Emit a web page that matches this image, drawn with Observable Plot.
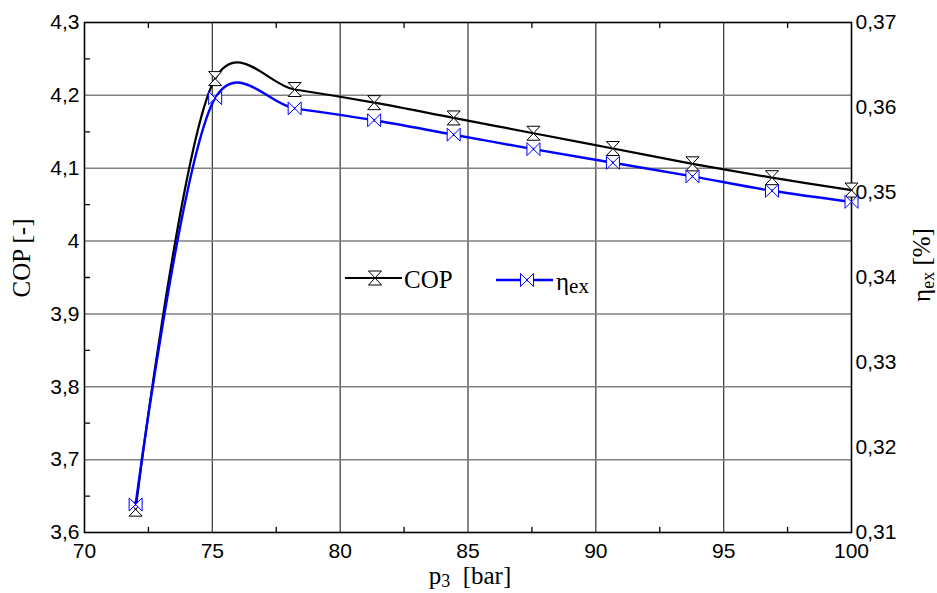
<!DOCTYPE html>
<html><head><meta charset="utf-8">
<script src="https://cdn.jsdelivr.net/npm/d3@7"></script>
<script src="https://cdn.jsdelivr.net/npm/@observablehq/plot@0.6"></script>
<style>body{margin:0;background:#fff}</style>
</head><body><div id="chart"></div>
<script>
// ---- data ----
const pressure = [72, 75.11, 78.22, 81.33, 84.44, 87.56, 90.67, 93.78, 96.89, 100];
const copValues = [3.632, 4.223, 4.208, 4.190, 4.169, 4.148, 4.127, 4.106, 4.087, 4.070];
const etaValues = [0.3133, 0.3611, 0.3599, 0.3585, 0.3568, 0.3551, 0.3535, 0.3519, 0.3502, 0.3489];
const xTicks = [70, 75, 80, 85, 90, 95, 100];
const xGrid = [75, 80, 85, 90, 95];
const xMinor = [72.5, 77.5, 82.5, 87.5, 92.5, 97.5];
const copTicks = [3.6, 3.7, 3.8, 3.9, 4.0, 4.1, 4.2, 4.3];
const copGrid = [3.7, 3.8, 3.9, 4.0, 4.1, 4.2];
const copMinor = [3.65, 3.75, 3.85, 3.95, 4.05, 4.15, 4.25];
const etaTicks = [0.31, 0.32, 0.33, 0.34, 0.35, 0.36, 0.37];
const copDomain = [3.6, 4.3];
const etaDomain = [0.31, 0.37];

// map the right-axis (eta) values onto the left (COP) scale
const etaToCop = e => copDomain[0] + (e - etaDomain[0]) * (copDomain[1] - copDomain[0]) / (etaDomain[1] - etaDomain[0]);
const copToEta = c => etaDomain[0] + (c - copDomain[0]) * (etaDomain[1] - etaDomain[0]) / (copDomain[1] - copDomain[0]);
const comma = v => String(v).replace(".", ",");

const data = pressure.map((p, i) => ({p, cop: copValues[i], eta: etaValues[i]}));

const hourglass = {draw(ctx) { const w = 6.5, h = 7; ctx.moveTo(-w, -h); ctx.lineTo(w, -h); ctx.lineTo(-w, h); ctx.lineTo(w, h); ctx.closePath(); }};
const bowtie = {draw(ctx) { const w = 6.5, h = 6.5; ctx.moveTo(-w, -h); ctx.lineTo(-w, h); ctx.lineTo(w, -h); ctx.lineTo(w, h); ctx.closePath(); }};
const tickShape = {draw(ctx, l) { ctx.moveTo(0, 0); ctx.lineTo(0, -l); }};

const sans = "Liberation Sans, Arial, sans-serif";
const serif = "Liberation Serif, Times New Roman, serif";

const chart = Plot.plot({
  width: 937, height: 593,
  marginLeft: 84, marginRight: 86, marginTop: 22, marginBottom: 61,
  style: {fontFamily: sans, fontSize: "21px", background: "#fff", color: "#000"},
  x: {domain: [70, 100]},
  y: {domain: copDomain},
  marks: [
    Plot.gridX(xGrid, {stroke: "#444", strokeOpacity: 1, strokeWidth: 1.3}),
    Plot.gridY(copGrid, {stroke: "#808080", strokeOpacity: 1, strokeWidth: 1.5}),
    Plot.vectorX(xMinor, {x: d => d, frameAnchor: "bottom", length: 5, anchor: "start", rotate: 0, shape: tickShape, stroke: "#000", strokeWidth: 1.3}),
    Plot.vectorX(xMinor, {x: d => d, frameAnchor: "top", length: 5, anchor: "start", rotate: 180, shape: tickShape, stroke: "#000", strokeWidth: 1.3}),
    Plot.vectorY(copMinor, {y: d => d, frameAnchor: "left", length: 5, anchor: "start", rotate: 90, shape: tickShape, stroke: "#000", strokeWidth: 1.3}),
    Plot.axisX(xTicks, {anchor: "bottom", tickSize: 0, tickPadding: 11, label: null, fontSize: 21}),
    Plot.axisY(copTicks, {anchor: "left", tickSize: 0, tickPadding: 5, label: null, tickFormat: comma, fontSize: 21}),
    Plot.axisY(etaTicks.map(etaToCop), {anchor: "right", tickSize: 0, tickPadding: 4, label: null, fontSize: 21,
      tickFormat: v => comma(+copToEta(v).toFixed(2))}),
    Plot.frame({stroke: "#000", strokeWidth: 1.6}),
    Plot.line(data, {x: "p", y: "cop", curve: "catmull-rom", tension: 0.2, stroke: "#000", strokeWidth: 2.2}),
    Plot.dot(data, {x: "p", y: "cop", symbol: hourglass, stroke: "#000", fill: "#fff", strokeWidth: 1, r: 7}),
    Plot.line(data, {x: "p", y: d => etaToCop(d.eta), curve: "catmull-rom", tension: 0.2, stroke: "#0000ff", strokeWidth: 2.4}),
    Plot.dot(data, {x: "p", y: d => etaToCop(d.eta), symbol: bowtie, stroke: "#0000ff", fill: "#fff", strokeWidth: 1, r: 7})
  ]
});
document.getElementById("chart").appendChild(chart);

// ---- titles and legend ----
const svg = d3.select(chart);
const g = svg.append("g").attr("font-family", serif).attr("fill", "#000").attr("text-anchor", "start");

g.append("text").attr("transform", "translate(24,258) rotate(-90)")
  .attr("text-anchor", "middle").attr("font-size", 25).attr("dominant-baseline", "middle").text("COP [-]");

const right = g.append("text").attr("transform", "translate(930,265) rotate(-90)")
  .attr("text-anchor", "middle").attr("font-size", 25);
right.append("tspan").text("η");
right.append("tspan").attr("font-size", 18).attr("dy", 4).text("ex");
right.append("tspan").attr("dy", -4).text(" [%]");

const bottom = g.append("text").attr("x", 470).attr("y", 584).attr("text-anchor", "middle").attr("font-size", 25);
bottom.append("tspan").text("p");
bottom.append("tspan").attr("font-size", 18).attr("dy", 3).text("3");
bottom.append("tspan").attr("dy", -3).text("\u00a0 [bar]");

const lg = g.append("g");
lg.append("line").attr("x1", 345).attr("x2", 402).attr("y1", 278).attr("y2", 278).attr("stroke", "#000").attr("stroke-width", 2.2);
lg.append("path").attr("d", d3.symbol(hourglass)()).attr("transform", "translate(375,278)").attr("stroke", "#000").attr("fill", "#fff");
lg.append("text").attr("x", 404).attr("y", 288).attr("text-anchor", "start").attr("font-size", 25).text("COP");
lg.append("line").attr("x1", 496).attr("x2", 553).attr("y1", 280).attr("y2", 280).attr("stroke", "#0000ff").attr("stroke-width", 2.4);
lg.append("path").attr("d", d3.symbol(bowtie)()).attr("transform", "translate(527,280)").attr("stroke", "#0000ff").attr("fill", "#fff");
const lt = lg.append("text").attr("x", 556).attr("y", 290).attr("text-anchor", "start").attr("font-size", 25);
lt.append("tspan").text("η");
lt.append("tspan").attr("font-size", 21).attr("dy", 3).text("ex");
</script>
</body></html>
